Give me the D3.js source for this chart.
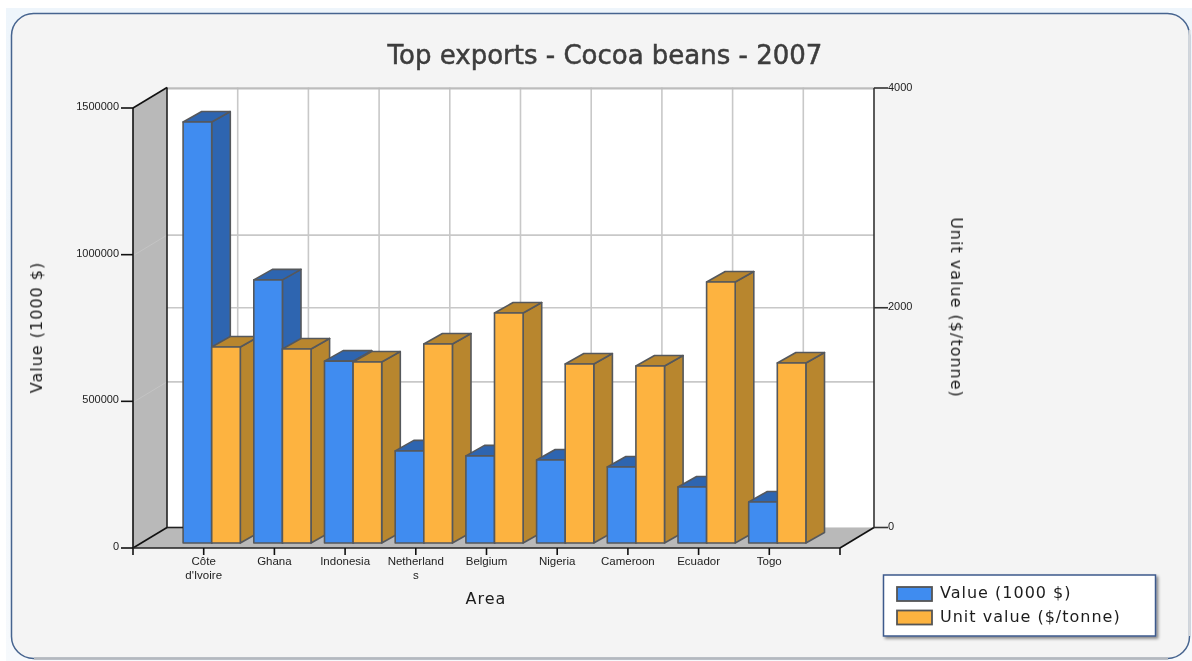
<!DOCTYPE html>
<html><head><meta charset="utf-8">
<script src="https://cdn.jsdelivr.net/npm/d3@7"></script>
<style>html,body{margin:0;padding:0;background:#fff;overflow:hidden}svg{display:block}</style>
</head><body><svg id="c" width="1192" height="661"></svg>
<script>
const categories=[["Côte","d'Ivoire"],["Ghana"],["Indonesia"],["Netherland","s"],["Belgium"],["Nigeria"],["Cameroon"],["Ecuador"],["Togo"]];
const valueSeries=[1435000,897000,620000,314000,297000,283000,259000,191000,140000];
const unitSeries=[1782,1764,1645,1809,2091,1627,1609,2373,1636];
const leftTicks=[0,500000,1000000,1500000];
const rightTicks=[0,2000,4000];
const seriesNames=["Value (1000 $)","Unit value ($/tonne)"];
const titleText="Top exports - Cocoa beans - 2007";

const svg=d3.select("#c");
const sans="'DejaVu Sans',sans-serif", small="'Liberation Sans',Arial,sans-serif";
const defs=svg.append("defs");
defs.append("filter").attr("id","soft").append("feGaussianBlur").attr("stdDeviation",0.4);
const sh=defs.append("filter").attr("id","sh").attr("x","-5%").attr("y","-10%").attr("width","110%").attr("height","125%");
sh.append("feDropShadow").attr("dx",2).attr("dy",2).attr("stdDeviation",1.5).attr("flood-color","#000").attr("flood-opacity",.45);
const glow=defs.append("linearGradient").attr("id","bg").attr("x1",0).attr("x2",0).attr("y1",0).attr("y2",1);
glow.append("stop").attr("offset",0).attr("stop-color","#eef5fb");
glow.append("stop").attr("offset",1).attr("stop-color","#f6f9fc");

// panel
svg.append("rect").attr("x",6).attr("y",8).attr("width",1186).attr("height",653).attr("fill","url(#bg)");
svg.append("rect").attr("x",11.5).attr("y",13.5).attr("width",1178).attr("height",645).attr("rx",22)
  .attr("fill","#f4f4f4").attr("stroke","#46648f").attr("stroke-width",1.5);
svg.append("line").attr("x1",34).attr("x2",1168).attr("y1",658.5).attr("y2",658.5).attr("stroke","#b4b8be").attr("stroke-width",2.5);
svg.append("line").attr("x1",1189.5).attr("x2",1189.5).attr("y1",30).attr("y2",636).attr("stroke","#d4d7db").attr("stroke-width",2);

const dx=34, dy=-20.5;
const x=d3.scaleLinear().domain([0,10]).range([133,840]);
const yL=d3.scaleLinear().domain([0,1500000]).range([548,108]);
const yR=d3.scaleLinear().domain([0,4000]).range([527.5,88]);
const yBarL=d3.scaleLinear().domain([0,1500000]).range([543,103]);
const yBarR=d3.scaleLinear().domain([0,4000]).range([543,103]);
const x0=x(0),x1=x(10),yb=yL(0),yt=yL(1500000);

const plot=svg.append("g").attr("filter","url(#soft)");
const poly=(pts,fill)=>plot.append("polygon").attr("points",pts.map(p=>p.join(",")).join(" ")).attr("fill",fill);
// back wall, side wall, floor
poly([[x0+dx,yt+dy],[x1+dx,yt+dy],[x1+dx,yb+dy],[x0+dx,yb+dy]],"#fff");
poly([[x0,yt],[x0+dx,yt+dy],[x0+dx,yb+dy],[x0,yb]],"#b9b9b9");
poly([[x0,yb],[x0+dx,yb+dy],[x1+dx,yb+dy],[x1,yb]],"#b9b9b9");
// grid: left-axis levels, plus the right-axis midpoint
const hGrid=[yL(500000)+dy+1,yR(2000),yL(1000000)+dy+1];
plot.selectAll(".h").data(hGrid).join("line").attr("x1",x0+dx).attr("x2",x1+dx).attr("y1",d=>d).attr("y2",d=>d)
  .attr("stroke","#c8c8c8").attr("stroke-width",1.6);
plot.selectAll(".w").data([500000,1000000]).join("line").attr("x1",x0).attr("x2",x0+dx).attr("y1",d=>yL(d)+1).attr("y2",d=>yL(d)+dy+1)
  .attr("stroke","#c4c4c4").attr("stroke-width",1);
plot.selectAll(".v").data(d3.range(1,10)).join("line").attr("x1",d=>x(d)+dx).attr("x2",d=>x(d)+dx).attr("y1",yt+dy).attr("y2",yb+dy)
  .attr("stroke","#c8c8c8").attr("stroke-width",1.6);
plot.append("line").attr("x1",x0+dx).attr("x2",x1+dx).attr("y1",yt+dy+.8).attr("y2",yt+dy+.8).attr("stroke","#bcbcbc").attr("stroke-width",2.2);

// 3D bars
const bw=28.6, bx=18.6, by=-10.5, off=8;
const styles=[{f:"#3f8cf0",s:"#2e65b0",t:"#2e65b0"},{f:"#fdb33f",s:"#b8862f",t:"#b8862f"}];
function bar(left,top,base,st){
  const g=plot.append("g").attr("stroke","#55585c").attr("stroke-width",1.6).attr("stroke-linejoin","round");
  g.append("polygon").attr("fill",st.s).attr("points",[[left+bw,top],[left+bw+bx,top+by],[left+bw+bx,base+by],[left+bw,base]].join(" "));
  g.append("polygon").attr("fill",st.t).attr("points",[[left,top],[left+bx,top+by],[left+bw+bx,top+by],[left+bw,top]].join(" "));
  g.append("rect").attr("x",left).attr("y",top).attr("width",bw).attr("height",base-top).attr("fill",st.f);
}
categories.forEach((c,i)=>{
  const cx=x(i+1)+off;
  bar(cx-bw,yBarL(valueSeries[i]),yBarL(0),styles[0]);
  bar(cx,yBarR(unitSeries[i]),yBarR(0),styles[1]);
});

// axes
const axis=svg.append("g").attr("stroke","#111").attr("stroke-width",1.6).attr("fill","none");
const ln=(a,b,c,d,col)=>axis.append("line").attr("x1",a).attr("y1",b).attr("x2",c).attr("y2",d).attr("stroke",col||"#111");
ln(x0,yt,x0,yb+7);
ln(x0+dx,yt+dy,x0+dx,yb+dy,"#222");
ln(x0,yt,x0+dx,yt+dy); ln(x0,yb,x0+dx,yb+dy);
ln(x0,yb,x1,yb,"#222"); ln(x1,yb,x1+dx,yb+dy); ln(x1,yb,x1,yb+7);
ln(x1+dx,yR(4000),x1+dx,yR(0),"#333");
leftTicks.forEach(t=>ln(x0-12,yL(t),x0,yL(t)));
rightTicks.forEach(t=>ln(x1+dx,yR(t),x1+dx+14,yR(t),"#333"));
d3.range(1,10).forEach(k=>ln(x(k),yb,x(k),yb+7));
ln(x0+dx,yb+dy,x0+dx+16,yb+dy,"#222");

const txt=svg.append("g").attr("filter","url(#soft)");
txt.selectAll(".lt").data(leftTicks).join("text").attr("x",x0-14).attr("y",t=>yL(t)+2)
  .attr("text-anchor","end").attr("font-family",small).attr("font-size",11).attr("fill","#222").text(t=>t);
txt.selectAll(".rt").data(rightTicks).join("text").attr("x",x1+dx+14).attr("y",t=>yR(t)+2.5)
  .attr("font-family",small).attr("font-size",11).attr("fill","#222").text(t=>t);
categories.forEach((c,i)=>{
  const t=txt.append("text").attr("text-anchor","middle").attr("font-family",small).attr("font-size",11.5).attr("fill","#222");
  c.forEach((w,j)=>t.append("tspan").attr("x",x(i+1)).attr("y",565+j*14).text(w));
});
txt.append("text").attr("x",605).attr("y",64).attr("text-anchor","middle").attr("font-family",sans).attr("font-size",26)
  .attr("fill","#3c3c3c").attr("stroke","#3c3c3c").attr("stroke-width",.5).text(titleText);
const axisTitle=s=>s.attr("text-anchor","middle").attr("font-family",sans).attr("font-size",16).attr("letter-spacing",1).attr("fill","#1c1c1c");
txt.append("text").attr("x",486).attr("y",604).call(axisTitle).text("Area");
txt.append("text").attr("transform","translate(42,327.5) rotate(-90)").call(axisTitle).text(seriesNames[0]);
txt.append("text").attr("transform","translate(951,307.5) rotate(90)").call(axisTitle).text(seriesNames[1]);

// legend
svg.append("rect").attr("x",883.5).attr("y",575).attr("width",272).attr("height",61).attr("fill","#fff")
  .attr("stroke","#3c5a8c").attr("stroke-width",1.5).attr("filter","url(#sh)");
const legendText=svg.append("g").attr("filter","url(#soft)");
seriesNames.forEach((n,i)=>{
  svg.append("rect").attr("x",897).attr("y",587+i*23.5).attr("width",35).attr("height",14).attr("fill",styles[i].f)
    .attr("stroke","#555").attr("stroke-width",1.8);
  legendText.append("text").attr("x",940).attr("y",598+i*23.5).attr("font-family",sans).attr("font-size",16).attr("letter-spacing",1).attr("fill","#1c1c1c").text(n);
});
</script></body></html>
